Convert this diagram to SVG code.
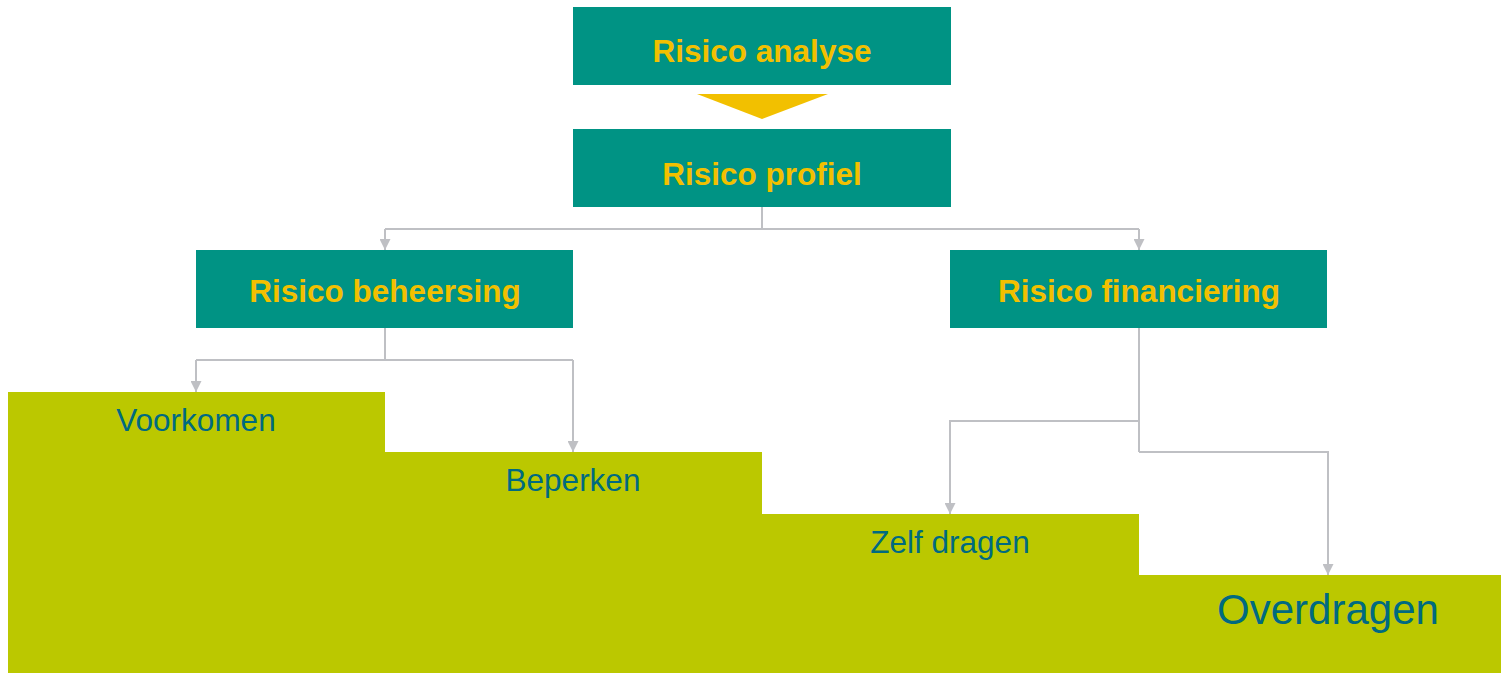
<svg xmlns="http://www.w3.org/2000/svg" width="1501" height="673" viewBox="0 0 1501 673">
<style>
.box{fill:#009384}
.bt{font-family:"Liberation Sans",Arial,sans-serif;font-weight:bold;font-size:31.5px;fill:#F2C000;text-anchor:middle}
.st{font-family:"Liberation Sans",Arial,sans-serif;font-size:31.5px;fill:#006A80;text-anchor:middle}
.cn{fill:none;stroke:#BFC0C4;stroke-width:2}
</style>
<defs>
<marker id="ah" markerWidth="11" markerHeight="11" refX="11" refY="5.5" orient="auto" markerUnits="userSpaceOnUse" viewBox="0 0 11 11">
<path d="M0,0 L11,5.5 L0,11 Z" fill="#BFC0C4"/>
</marker>
</defs>
<rect width="1501" height="673" fill="#fff"/>
<g id="staircase">
<path d="M8,392 H385 V452 H762 V514 H1139 V575 H1501 V673 H8 Z" fill="#BBC800"/>
</g>
<g id="connectors">
<polygon points="697,94 828,94 762,119" fill="#F2C000"/>
<path class="cn" d="M762,207 V229"/>
<path class="cn" d="M385,229 H1139"/>
<path class="cn" d="M385,229 V250" marker-end="url(#ah)"/>
<path class="cn" d="M1139,229 V250" marker-end="url(#ah)"/>
<path class="cn" d="M385,328 V360"/>
<path class="cn" d="M196,360 H573"/>
<path class="cn" d="M196,360 V392" marker-end="url(#ah)"/>
<path class="cn" d="M573,360 V452" marker-end="url(#ah)"/>
<path class="cn" d="M1139,328 V452"/>
<path class="cn" d="M1139,421 H950 V514" marker-end="url(#ah)"/>
<path class="cn" d="M1139,452 H1328 V575" marker-end="url(#ah)"/>
</g>
<g id="n-analyse"><rect class="box" x="573" y="7" width="378" height="78"/><text class="bt" x="762" y="62">Risico analyse</text></g>
<g id="n-profiel"><rect class="box" x="573" y="129" width="378" height="78"/><text class="bt" x="762" y="185">Risico profiel</text></g>
<g id="n-beheersing"><rect class="box" x="196" y="250" width="377" height="78"/><text class="bt" x="385" y="302">Risico beheersing</text></g>
<g id="n-financiering"><rect class="box" x="950" y="250" width="377" height="78"/><text class="bt" x="1139" y="302">Risico financiering</text></g>
<g id="n-voorkomen"><text class="st" x="196" y="431">Voorkomen</text></g>
<g id="n-beperken"><text class="st" x="573" y="491">Beperken</text></g>
<g id="n-zelf"><text class="st" x="950" y="553">Zelf dragen</text></g>
<g id="n-overdragen"><text class="st" x="1328" y="624" style="font-size:42px">Overdragen</text></g>
</svg>
